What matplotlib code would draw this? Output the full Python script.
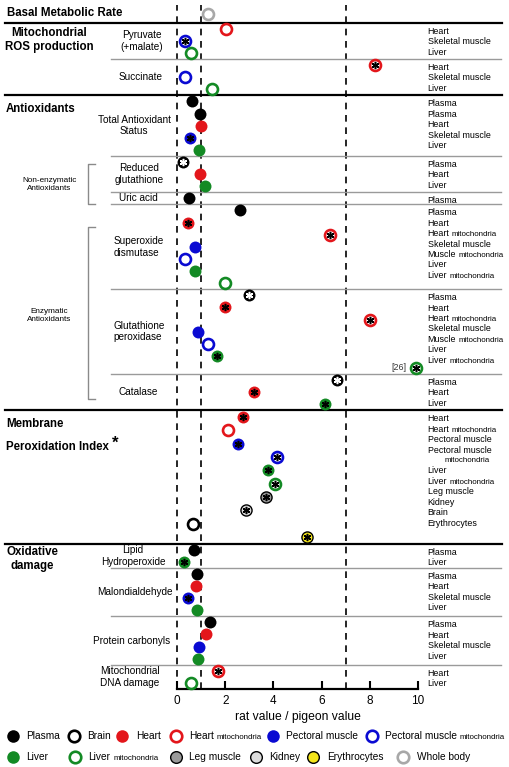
import matplotlib.pyplot as plt
from matplotlib.transforms import blended_transform_factory

plt.rcParams['font.family'] = ['Liberation Sans', 'DejaVu Sans']

W, H = 510, 767

# rat value / pigeon value; sig = 1 where the dot carries a *
bmr_tissue = ['body']
bmr_ratio = [1.3]
bmr_sig = [0]

pyr_tissue = ['heart_m', 'pect_m', 'liver_m']
pyr_ratio = [2.05, 0.33, 0.59]
pyr_sig = [0, 1, 0]

suc_tissue = ['heart_m', 'pect_m', 'liver_m']
suc_ratio = [8.2, 0.33, 1.47]
suc_sig = [1, 0, 0]

mito_rows = ['Heart', 'Skeletal muscle', 'Liver']

tas_tissue = ['plasma', 'plasma', 'heart', 'pect', 'liver']
tas_ratio = [0.62, 0.96, 0.99, 0.53, 0.93]
tas_sig = [0, 0, 0, 1, 0]
tas_rows = ['Plasma', 'Plasma', 'Heart', 'Skeletal muscle', 'Liver']

gsh_tissue = ['plasma', 'heart', 'liver']
gsh_ratio = [0.23, 0.96, 1.15]
gsh_sig = [1, 0, 0]
gsh_rows = ['Plasma', 'Heart', 'Liver']

uric_tissue = ['plasma']
uric_ratio = [0.5]
uric_sig = [0]
uric_rows = ['Plasma']

enz_tissue = ['plasma', 'heart', 'heart_m', 'pect', 'pect_m', 'liver', 'liver_m']
enz_rows = ['Plasma', 'Heart', 'Heart mitochondria', 'Skeletal muscle',
            'Muscle mitochondria', 'Liver', 'Liver mitochondria']
sod_ratio = [2.6, 0.46, 6.33, 0.74, 0.33, 0.74, 1.99]
sod_sig = [0, 1, 1, 0, 0, 0, 0]
gpx_ratio = [3.0, 2.0, 8.0, 0.89, 1.3, 1.68, 26]
gpx_sig = [1, 1, 1, 0, 0, 1, 1]

cat_tissue = ['plasma', 'heart', 'liver']
cat_ratio = [6.64, 3.18, 6.16]
cat_sig = [1, 1, 1]
cat_rows = ['Plasma', 'Heart', 'Liver']

mpi_tissue = ['heart', 'heart_m', 'pect', 'pect_m', 'liver', 'liver_m',
              'leg', 'kidney', 'brain', 'eryth']
mpi_ratio = [2.75, 2.13, 2.53, 4.14, 3.76, 4.06, 3.7, 2.87, 0.67, 5.41]
mpi_sig = [1, 0, 1, 1, 1, 1, 1, 1, 0, 1]
mpi_rows = ['Heart', 'Heart mitochondria', 'Pectoral muscle',
            'Pectoral muscle\nmitochondria', 'Liver', 'Liver mitochondria',
            'Leg muscle', 'Kidney', 'Brain', 'Erythrocytes']

lh_tissue = ['plasma', 'liver']
lh_ratio = [0.72, 0.29]
lh_sig = [0, 1]
lh_rows = ['Plasma', 'Liver']

four_tissue = ['plasma', 'heart', 'pect', 'liver']
four_rows = ['Plasma', 'Heart', 'Skeletal muscle', 'Liver']
mda_ratio = [0.85, 0.8, 0.46, 0.85]
mda_sig = [0, 0, 1, 0]
pc_ratio = [1.37, 1.2, 0.93, 0.89]
pc_sig = [0, 0, 0, 0]

dna_tissue = ['heart_m', 'liver_m']
dna_ratio = [1.7, 0.6]
dna_sig = [1, 0]
dna_rows = ['Heart', 'Liver']

groups = [
    ('Pyruvate\n(+malate)', pyr_tissue, pyr_ratio, pyr_sig, mito_rows),
    ('Succinate', suc_tissue, suc_ratio, suc_sig, mito_rows),
    ('Total Antioxidant\nStatus', tas_tissue, tas_ratio, tas_sig, tas_rows),
    ('Reduced\nglutathione', gsh_tissue, gsh_ratio, gsh_sig, gsh_rows),
    ('Uric acid', uric_tissue, uric_ratio, uric_sig, uric_rows),
    ('Superoxide\ndismutase', enz_tissue, sod_ratio, sod_sig, enz_rows),
    ('Glutathione\nperoxidase', enz_tissue, gpx_ratio, gpx_sig, enz_rows),
    ('Catalase', cat_tissue, cat_ratio, cat_sig, cat_rows),
    ('', mpi_tissue, mpi_ratio, mpi_sig, mpi_rows),
    ('Lipid\nHydroperoxide', lh_tissue, lh_ratio, lh_sig, lh_rows),
    ('Malondialdehyde', four_tissue, mda_ratio, mda_sig, four_rows),
    ('Protein carbonyls', four_tissue, pc_ratio, pc_sig, four_rows),
    ('Mitochondrial\nDNA damage', dna_tissue, dna_ratio, dna_sig, dna_rows),
]
sub_x = [142, 141, 134, 139, 138, 139, 139, 138, 0, 133, 134.5, 131.5, 130]
thick_before = [0, 2, 8, 9]

RED, BLUE, GREEN = '#e3161b', '#0a0ad2', '#138a24'
# tissue -> (colour, filled, edge)
look = {
    'plasma': ('black', True, None),
    'brain': ('black', False, None),
    'heart': (RED, True, None),
    'heart_m': (RED, False, None),
    'pect': (BLUE, True, None),
    'pect_m': (BLUE, False, None),
    'liver': (GREEN, True, None),
    'liver_m': (GREEN, False, None),
    'leg': ('#9a9a9a', True, 'black'),
    'kidney': ('#dcdcdc', True, 'black'),
    'eryth': ('#f4e61c', True, 'black'),
    'body': ('#a8a8a8', False, None),
}


def dot(a, x, y, t, sig=0, big=1.0):
    c, filled, edge = look[t]
    if filled:
        if edge:
            a.plot(x, y, 'o', ms=8.0 * big, mfc=c, mec=edge, mew=1.0, zorder=3, clip_on=False)
        else:
            a.plot(x, y, 'o', ms=8.6 * big, mfc=c, mec=c, mew=0, zorder=3, clip_on=False)
    else:
        a.plot(x, y, 'o', ms=7.9 * big, mfc='white', mec=c, mew=1.9, zorder=3, clip_on=False)
    if sig:
        a.plot(x, y, marker=(6, 2, 0), ms=5.2, color='white' if t == 'plasma' else 'black',
               mew=1.1, zorder=4, clip_on=False)


fig = plt.figure(figsize=(W / 100, H / 100), dpi=100)
ax = fig.add_axes([177 / W, 1 - 689 / H, 241 / W, 689 / H])
ax.patch.set_visible(False)

heights = [sum(1 + r.count('\n') for r in g[4]) for g in groups]
total = sum(heights)
px_line = (689 - 22.7) / total
ax.set_xlim(0, 10)
ax.set_ylim(total, -22.7 / px_line)
tr = blended_transform_factory(fig.transFigure, ax.transData)


def fx(v):
    return v / W


def hline(y, thick):
    if thick:
        ax.plot([fx(5), fx(502)], [y, y], color='black', lw=1.6, transform=tr, clip_on=False)
    else:
        ax.plot([fx(111), fx(501)], [y, y], color='#9a9a9a', lw=1.0, transform=tr, clip_on=False)


def row_labels(y0, rows):
    k = 0
    for r in rows:
        y = y0 + 0.7 + 0.86 * k
        if '\n' in r:
            main, small = r.split('\n')
            ax.text(fx(427.7), y, main, transform=tr, fontsize=6.4, va='center')
            k += 1
            ax.text(fx(445), y0 + 0.7 + 0.86 * k, small, transform=tr, fontsize=5.7, va='center')
        elif r.endswith(' mitochondria'):
            t = ax.text(fx(427.7), y, r[:-13], transform=tr, fontsize=6.4, va='center')
            ax.annotate('mitochondria', xy=(1, 0), xycoords=t, xytext=(1.5, 0),
                        textcoords='offset points', fontsize=5.7, va='bottom')
        else:
            ax.text(fx(427.7), y, r, transform=tr, fontsize=6.4, va='center')
        k += 1


# reference lines
dash_top = -(22.7 - 5) / px_line
for xv in [0, 1, 7]:
    ax.plot([xv, xv], [total, dash_top], color='black', lw=1.2, dashes=(4, 3.4),
            zorder=1, clip_on=False)

# basal metabolic rate
bmr_y = -0.72
for x, t, s in zip(bmr_ratio, bmr_tissue, bmr_sig):
    dot(ax, x, bmr_y, t, s)
ax.text(fx(7), bmr_y - 0.05, 'Basal Metabolic Rate', transform=tr, fontsize=8.3,
        fontweight='bold', va='center')

top = 0.0
for i, (name, tissues, ratios, sigs, rows) in enumerate(groups):
    h = heights[i]
    hline(top, i in thick_before)
    n = len(tissues)
    for j, (t, v, s) in enumerate(zip(tissues, ratios, sigs)):
        y = top + (j + 0.5) * h / n
        x = min(v, 9.9)
        dot(ax, x, y, t, s)
        if v > 10:
            ax.annotate('[%d]' % v, xy=(x, y), xytext=(-6.5, 0), textcoords='offset points',
                        ha='right', va='center', fontsize=6.4, color='#333333')
    if name:
        ax.text(fx(sub_x[i]), top + h / 2, name, transform=tr, fontsize=7.2,
                ha='center', va='center', multialignment='left' if i in (5, 6) else 'center',
                linespacing=1.2)
    row_labels(top, rows)
    top += h

# section titles
bold = dict(transform=tr, fontsize=8.3, fontweight='bold', va='center')
ax.text(fx(49), 1.45, 'Mitochondrial\nROS production', ha='center', linespacing=1.25, **bold)
ax.text(fx(6), 7.15, 'Antioxidants', ha='left', **bold)
ax.text(fx(6), 33.16, 'Membrane', ha='left', **bold)
ax.text(fx(6), 35.0, 'Peroxidation Index', ha='left', **bold)
ax.text(fx(115), 34.75, '*', transform=tr, fontsize=12, fontweight='bold', ha='center', va='center')
ax.text(fx(32), 44.3, 'Oxidative\ndamage', ha='center', linespacing=1.2, **bold)

# antioxidant brackets
for y1, y2, yl, lab in [(11.7, 15.0, 13.33, 'Non-enzymatic\nAntioxidants'),
                        (16.9, 31.1, 24.16, 'Enzymatic\nAntioxidants')]:
    ax.plot([fx(95), fx(88.3), fx(88.3), fx(95)], [y1, y1, y2, y2], color='#8a8a8a',
            lw=1.0, transform=tr, clip_on=False)
    ax.text(fx(49.3), yl, lab, transform=tr, fontsize=5.9, ha='center', va='center',
            linespacing=1.25)

# x axis
for s in ['top', 'left', 'right']:
    ax.spines[s].set_visible(False)
ax.spines['bottom'].set_linewidth(1.6)
ax.set_yticks([])
ax.set_xticks([0, 2, 4, 6, 8, 10])
ax.tick_params(axis='x', direction='in', length=5.5, width=1.5, labelsize=8.5, pad=4)
ax.set_xlabel('rat value / pigeon value', fontsize=8.7, labelpad=3)

# legend
lax = fig.add_axes([0, 0, 1, 1])
lax.axis('off')
lax.set_xlim(0, W)
lax.set_ylim(H, 0)
legend_rows = [
    (735.7, ['plasma', 'brain', 'heart', 'heart_m', 'pect', 'pect_m'],
     ['Plasma', 'Brain', 'Heart', 'Heart', 'Pectoral muscle', 'Pectoral muscle'],
     [12.7, 74, 122.3, 175.7, 272.7, 371.7]),
    (756.7, ['liver', 'liver_m', 'leg', 'kidney', 'eryth', 'body'],
     ['Liver', 'Liver', 'Leg muscle', 'Kidney', 'Erythrocytes', 'Whole body'],
     [12.7, 75, 176, 256, 313.3, 403.3]),
]
for ly, keys, labs, xs in legend_rows:
    for k, lab, x in zip(keys, labs, xs):
        dot(lax, x, ly, k, big=1.05)
        t = lax.text(x + 13.5, ly, lab, fontsize=7.3, va='center')
        if k.endswith('_m'):
            lax.annotate('mitochondria', xy=(1, 0), xycoords=t, xytext=(2, 0),
                         textcoords='offset points', fontsize=5.7, va='bottom')

fig.savefig('out.png', dpi=100)
